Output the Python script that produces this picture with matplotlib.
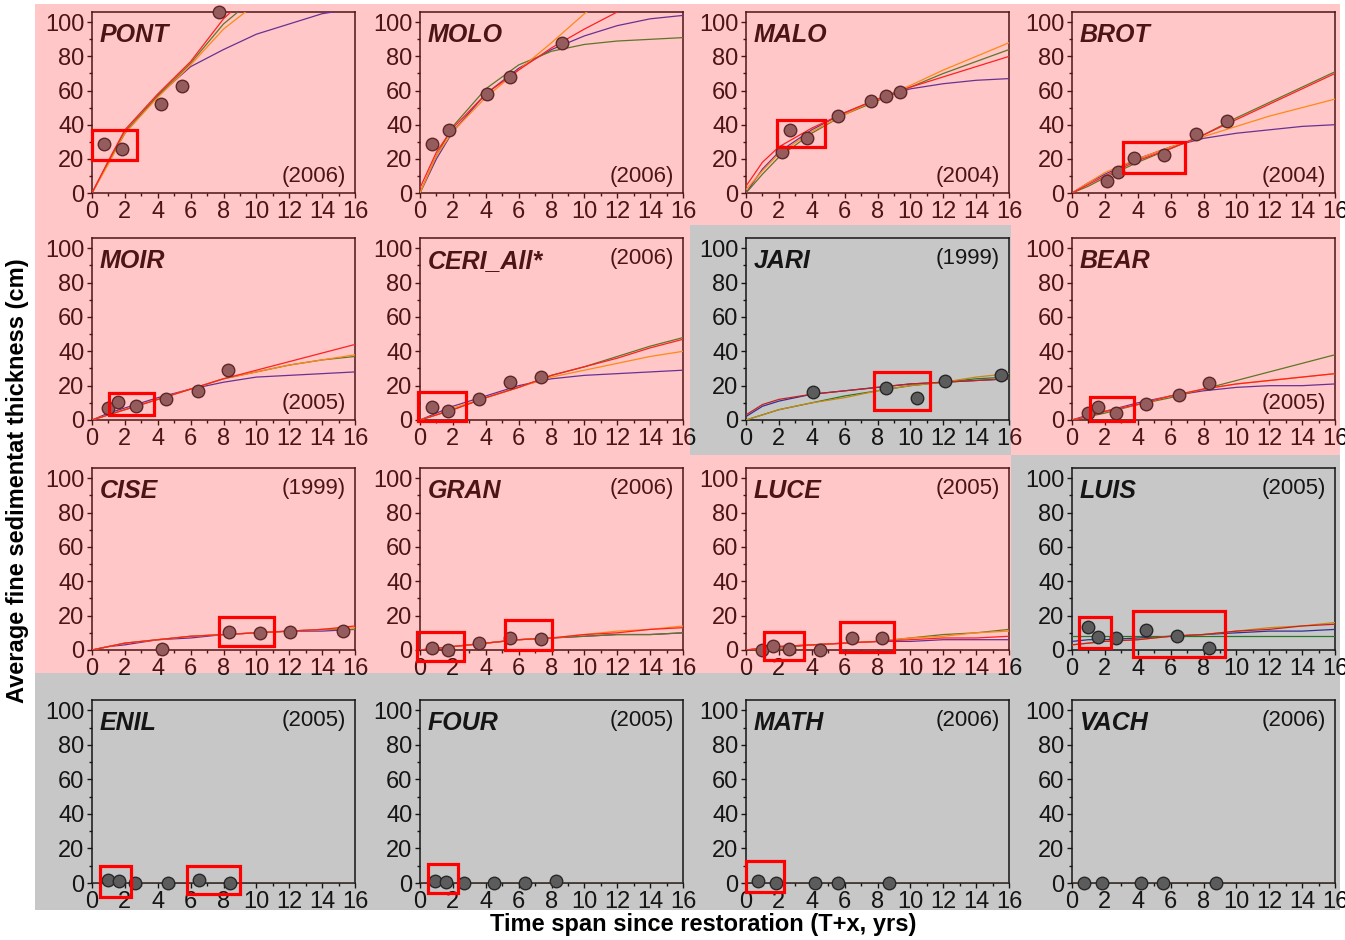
import matplotlib
matplotlib.use("Agg")
import matplotlib.pyplot as plt
from matplotlib.patches import Rectangle
from matplotlib.ticker import MultipleLocator

plt.rcParams['font.family'] = ['Liberation Sans', 'DejaVu Sans']

# ---------------- data ----------------
SITES = ["PONT", "MOLO", "MALO", "BROT",
         "MOIR", "CERI_All*", "JARI", "BEAR",
         "CISE", "GRAN", "LUCE", "LUIS",
         "ENIL", "FOUR", "MATH", "VACH"]
YEARS = ["(2006)", "(2006)", "(2004)", "(2004)",
         "(2005)", "(2006)", "(1999)", "(2005)",
         "(1999)", "(2006)", "(2005)", "(2005)",
         "(2005)", "(2005)", "(2006)", "(2006)"]
# group: 'A' = pink panels, 'B' = grey panels
GROUP = ["A", "A", "A", "A",
         "A", "A", "B", "A",
         "A", "A", "A", "B",
         "B", "B", "B", "B"]

# observed points (time since restoration, yrs ; thickness, cm)
PONT_T = [0.75, 1.8, 4.2, 5.5, 7.75]
PONT_D = [28.6, 26, 52, 62.4, 106]
MOLO_T = [0.7, 1.75, 4.05, 5.45, 8.65]
MOLO_D = [28.5, 37, 58, 68, 88]
MALO_T = [2.2, 2.7, 3.7, 5.6, 7.6, 8.5, 9.35]
MALO_D = [24, 37, 32, 45, 54, 57, 59]
BROT_T = [2.1, 2.8, 3.8, 5.6, 7.55, 9.45]
BROT_D = [7, 12.5, 20.5, 22, 34.7, 42.2]
MOIR_T = [0.95, 1.6, 2.7, 4.5, 6.45, 8.3]
MOIR_D = [7, 10.2, 8, 12.3, 17, 29.4]
CERI_T = [0.7, 1.7, 3.6, 5.5, 7.35]
CERI_D = [7.6, 5.1, 12.4, 21.9, 25.3]
JARI_T = [4.1, 8.5, 10.4, 12.1, 15.5]
JARI_D = [16.4, 18.6, 12.6, 22.6, 26.3]
BEAR_T = [1.0, 1.6, 2.7, 4.5, 6.5, 8.35]
BEAR_D = [4.2, 7.3, 4.2, 9.6, 14.8, 21.5]
CISE_T = [4.25, 8.35, 10.2, 12.05, 15.3]
CISE_D = [0.4, 10.6, 9.7, 10.6, 11.2]
GRAN_T = [0.7, 1.7, 3.6, 5.5, 7.35]
GRAN_D = [1, 0, 3.9, 6.8, 6.4]
LUCE_T = [0.95, 1.65, 2.6, 4.5, 6.45, 8.3]
LUCE_D = [0, 2.5, 0.6, 0, 7.1, 6.7]
LUIS_T = [0.95, 1.6, 2.7, 4.5, 6.4, 8.35]
LUIS_D = [13.4, 7.3, 6.7, 11.9, 8, 1]
ENIL_T = [1.0, 1.65, 2.6, 4.6, 6.5, 8.4]
ENIL_D = [2, 1, 0, 0, 2, 0]
FOUR_T = [0.9, 1.6, 2.65, 4.5, 6.4, 8.3]
FOUR_D = [1, 0.5, 0, 0, 0, 1]
MATH_T = [0.7, 1.8, 4.2, 5.6, 8.7]
MATH_D = [1, 0, 0, 0, 0]
VACH_T = [0.75, 1.85, 4.2, 5.55, 8.75]
VACH_D = [0, 0, 0, 0, 0]

# fitted curves at these times
FIT_T = [0, 1, 2, 4, 6, 8, 10, 12, 14, 16]
PONT_BLUE   = [0, 18, 35, 57, 74, 84, 93, 99, 105, 108]
PONT_GREEN  = [0, 18, 36, 57, 76, 99, 115, 132, 148, 164]
PONT_ORANGE = [0, 17, 35, 56, 75, 96, 111, 128, 144, 160]
PONT_RED    = [0, 19, 37, 58, 77, 102, 120, 138, 155, 170]
MOLO_BLUE   = [0, 20, 36, 58, 73, 84, 92, 98, 102, 104]
MOLO_GREEN  = [0, 22, 39, 61, 75, 83, 87, 89, 90, 91]
MOLO_ORANGE = [0, 22, 36, 56, 72, 88, 105, 118, 130, 140]
MOLO_RED    = [3, 24, 38, 58, 72, 85, 96, 106, 114, 122]
MALO_BLUE   = [0, 14, 24, 37, 47, 55, 61, 64, 66, 67]
MALO_GREEN  = [0, 11, 21, 35, 46, 54, 62, 70, 77, 84]
MALO_ORANGE = [2, 13, 23, 36, 46, 55, 63, 72, 80, 88]
MALO_RED    = [4, 18, 27, 38, 47, 55, 62, 68, 74, 80]
BROT_BLUE   = [0, 6, 11, 20, 27, 32, 35, 37, 39, 40]
BROT_GREEN  = [0, 4, 9, 18, 26, 34, 44, 53, 62, 71]
BROT_ORANGE = [0, 6, 12, 20, 27, 33, 39, 45, 50, 55]
BROT_RED    = [0, 5, 10, 19, 26, 34, 43, 52, 61, 70]
MOIR_BLUE   = [0, 4, 7, 13, 18, 22, 25, 26, 27, 28]
MOIR_GREEN  = [0, 3, 6, 12, 18, 24, 28, 32, 35, 37]
MOIR_ORANGE = [0, 3, 6, 12, 18, 24, 28, 32, 35, 38]
MOIR_RED    = [0, 3, 6, 12, 18, 24, 29, 34, 39, 44]
CERI_BLUE   = [0, 4, 8, 14, 20, 24, 26, 27, 28, 29]
CERI_GREEN  = [0, 3, 6, 13, 19, 26, 31, 37, 43, 48]
CERI_ORANGE = [0, 3, 7, 13, 19, 25, 29, 33, 37, 40]
CERI_RED    = [0, 3, 6, 13, 19, 26, 31, 36, 42, 47]
JARI_BLUE   = [2, 8, 11, 15, 17, 19, 21, 22, 23, 24]
JARI_GREEN  = [0, 3, 6, 10, 14, 17, 20, 22, 24, 25]
JARI_ORANGE = [0, 3, 6, 10, 13, 17, 20, 22, 25, 27]
JARI_RED    = [3, 9, 12, 15, 17, 19, 21, 22, 23, 24]
BEAR_BLUE   = [0, 3, 5, 10, 14, 17, 19, 20, 20, 21]
BEAR_GREEN  = [0, 2, 4, 9, 13, 18, 23, 28, 33, 38]
BEAR_ORANGE = [0, 2, 5, 9, 14, 18, 21, 23, 25, 27]
BEAR_RED    = [0, 2, 5, 9, 14, 18, 21, 23, 25, 27]
CISE_BLUE   = [0, 2, 3, 6, 7, 9, 10, 11, 11, 12]
CISE_GREEN  = [0, 2, 4, 6, 8, 9, 10, 11, 12, 12]
CISE_ORANGE = [0, 2, 4, 6, 8, 9, 10, 11, 12, 13]
CISE_RED    = [0, 2, 4, 6, 8, 9, 10, 11, 12, 14]
GRAN_BLUE   = [0, 1, 2, 4, 6, 7, 8, 9, 9, 10]
GRAN_GREEN  = [0, 1, 2, 4, 6, 7, 8, 9, 9, 10]
GRAN_ORANGE = [0, 1, 2, 4, 6, 7, 9, 11, 12, 14]
GRAN_RED    = [0, 1, 2, 4, 6, 7, 9, 10, 12, 13]
LUCE_BLUE   = [0, 1, 2, 3, 4, 5, 5, 6, 6, 6]
LUCE_GREEN  = [0, 1, 1, 3, 4, 5, 7, 9, 10, 12]
LUCE_ORANGE = [0, 1, 2, 3, 4, 5, 7, 8, 10, 11]
LUCE_RED    = [0, 1, 2, 3, 4, 5, 6, 7, 7, 8]
LUIS_BLUE   = [5, 6, 6, 7, 8, 9, 10, 11, 11, 12]
LUIS_GREEN  = [8, 8, 8, 8, 8, 8, 8, 8, 8, 8]
LUIS_ORANGE = [3, 4, 5, 6, 8, 9, 11, 13, 14, 16]
LUIS_RED    = [3, 4, 5, 6, 8, 9, 11, 12, 14, 15]
ENIL_BLUE   = [0, 0, 0, 0, 0, 0, 0, 0, 0, 0]
ENIL_GREEN  = [0, 0, 0, 0, 0, 0, 0, 0, 0, 0]
ENIL_ORANGE = [0, 0, 0, 0, 0, 0, 0, 0, 0, 0]
ENIL_RED    = [0, 0, 0, 0, 0, 0, 0, 0, 0, 0]
FOUR_BLUE   = [0, 0, 0, 0, 0, 0, 0, 0, 0, 0]
FOUR_GREEN  = [0, 0, 0, 0, 0, 0, 0, 0, 0, 0]
FOUR_ORANGE = [0, 0, 0, 0, 0, 0, 0, 0, 0, 0]
FOUR_RED    = [0, 0, 0, 0, 0, 0, 0, 0, 0, 0]
MATH_BLUE   = [0, 0, 0, 0, 0, 0, 0, 0, 0, 0]
MATH_GREEN  = [0, 0, 0, 0, 0, 0, 0, 0, 0, 0]
MATH_ORANGE = [0, 0, 0, 0, 0, 0, 0, 0, 0, 0]
MATH_RED    = [0, 0, 0, 0, 0, 0, 0, 0, 0, 0]
VACH_BLUE   = [0, 0, 0, 0, 0, 0, 0, 0, 0, 0]
VACH_GREEN  = [0, 0, 0, 0, 0, 0, 0, 0, 0, 0]
VACH_ORANGE = [0, 0, 0, 0, 0, 0, 0, 0, 0, 0]
VACH_RED    = [0, 0, 0, 0, 0, 0, 0, 0, 0, 0]

# highlighted groups of points: (t0, t1, d0, d1)
PONT_BOX = [(0.0, 2.75, 19.2, 37.0)]
MOLO_BOX = []
MALO_BOX = [(1.9, 4.8, 27.0, 43.0)]
BROT_BOX = [(3.1, 6.85, 12.0, 30.0)]
MOIR_BOX = [(1.05, 3.75, 2.7, 16.0)]
CERI_BOX = [(-0.1, 2.8, -0.5, 16.2)]
JARI_BOX = [(7.8, 11.2, 5.6, 28.2)]
BEAR_BOX = [(1.1, 3.8, -0.5, 13.4)]
CISE_BOX = [(7.7, 11.1, 2.3, 19.3)]
GRAN_BOX = [(-0.2, 2.65, -6.5, 10.7), (5.15, 8.05, 0.0, 17.4)]
LUCE_BOX = [(1.1, 3.55, -5.8, 10.6), (5.7, 9.0, -1.0, 16.3)]
LUIS_BOX = [(0.4, 2.35, 1.0, 19.5), (3.7, 9.3, -4.2, 22.6)]
ENIL_BOX = [(0.5, 2.4, -8.0, 10.0), (5.8, 9.0, -6.5, 10.0)]
FOUR_BOX = [(0.5, 2.3, -6.0, 11.0)]
MATH_BOX = [(0.0, 2.3, -5.0, 13.0)]
VACH_BOX = []

OBS = [(PONT_T, PONT_D), (MOLO_T, MOLO_D), (MALO_T, MALO_D), (BROT_T, BROT_D),
       (MOIR_T, MOIR_D), (CERI_T, CERI_D), (JARI_T, JARI_D), (BEAR_T, BEAR_D),
       (CISE_T, CISE_D), (GRAN_T, GRAN_D), (LUCE_T, LUCE_D), (LUIS_T, LUIS_D),
       (ENIL_T, ENIL_D), (FOUR_T, FOUR_D), (MATH_T, MATH_D), (VACH_T, VACH_D)]
FITS = [(PONT_BLUE, PONT_GREEN, PONT_ORANGE, PONT_RED),
        (MOLO_BLUE, MOLO_GREEN, MOLO_ORANGE, MOLO_RED),
        (MALO_BLUE, MALO_GREEN, MALO_ORANGE, MALO_RED),
        (BROT_BLUE, BROT_GREEN, BROT_ORANGE, BROT_RED),
        (MOIR_BLUE, MOIR_GREEN, MOIR_ORANGE, MOIR_RED),
        (CERI_BLUE, CERI_GREEN, CERI_ORANGE, CERI_RED),
        (JARI_BLUE, JARI_GREEN, JARI_ORANGE, JARI_RED),
        (BEAR_BLUE, BEAR_GREEN, BEAR_ORANGE, BEAR_RED),
        (CISE_BLUE, CISE_GREEN, CISE_ORANGE, CISE_RED),
        (GRAN_BLUE, GRAN_GREEN, GRAN_ORANGE, GRAN_RED),
        (LUCE_BLUE, LUCE_GREEN, LUCE_ORANGE, LUCE_RED),
        (LUIS_BLUE, LUIS_GREEN, LUIS_ORANGE, LUIS_RED),
        (ENIL_BLUE, ENIL_GREEN, ENIL_ORANGE, ENIL_RED),
        (FOUR_BLUE, FOUR_GREEN, FOUR_ORANGE, FOUR_RED),
        (MATH_BLUE, MATH_GREEN, MATH_ORANGE, MATH_RED),
        (VACH_BLUE, VACH_GREEN, VACH_ORANGE, VACH_RED)]
BOXES = [PONT_BOX, MOLO_BOX, MALO_BOX, BROT_BOX, MOIR_BOX, CERI_BOX, JARI_BOX, BEAR_BOX,
         CISE_BOX, GRAN_BOX, LUCE_BOX, LUIS_BOX, ENIL_BOX, FOUR_BOX, MATH_BOX, VACH_BOX]

# ---------------- layout / style ----------------
W, H = 1345, 940
fig = plt.figure(figsize=(W / 100, H / 100), dpi=100)
fig.patch.set_facecolor("white")

COL_LEFT = [92, 420, 746, 1072]
AX_W = 263
ROW_TOP = [12, 238, 468, 700]
ROW_BOT = [193, 420, 650, 883]
YEAR_AT_BOTTOM = [True, True, True, True,
                  True, False, False, True,
                  False, False, False, False,
                  False, False, False, False]
CELL_X = [35, 363, 690, 1011, 1340]
CELL_Y = [4, 225, 455, 673, 910]

FIT_COLORS = ["#2828b4", "#1a8a1a", "#ffa500", "#ff1010"]
TINT = {"A": (1.0, 0.28, 0.28), "B": (0.28, 0.28, 0.28)}
TINT_ALPHA = 0.3


def fx(px):
    return px / W


def fy(py):
    return 1 - py / H


for i, site in enumerate(SITES):
    r, c = divmod(i, 4)
    left, top, bot = COL_LEFT[c], ROW_TOP[r], ROW_BOT[r]
    ax = fig.add_axes([fx(left), fy(bot), AX_W / W, (bot - top) / H])
    ax.set_facecolor("white")
    ax.set_xlim(0, 16)
    ax.set_ylim(0, 106)
    ax.xaxis.set_major_locator(MultipleLocator(2))
    ax.xaxis.set_minor_locator(MultipleLocator(1))
    ax.yaxis.set_major_locator(MultipleLocator(20))
    ax.yaxis.set_minor_locator(MultipleLocator(10))
    ax.tick_params(which="major", direction="out", length=3.5, width=1.0,
                   labelsize=17, pad=2.0, colors="black")
    ax.tick_params(which="minor", direction="out", length=2.2, width=1.0)
    for sp in ax.spines.values():
        sp.set_linewidth(1.1)
        sp.set_color("black")

    for vals, col in zip(FITS[i], FIT_COLORS):
        ax.plot(FIT_T, vals, color=col, lw=0.9, zorder=3)

    t, d = OBS[i]
    ax.plot(t, d, "o", ms=9, mfc="#666666", mec="#1a1a1a", mew=1.0,
            clip_on=False, zorder=4)

    ax.annotate(site, xy=(0, 1), xycoords="axes fraction", xytext=(8, -11),
                textcoords="offset pixels", ha="left", va="top",
                fontsize=18, fontweight="bold", fontstyle="italic")
    if YEAR_AT_BOTTOM[i]:
        ax.annotate(YEARS[i], xy=(1, 0), xycoords="axes fraction", xytext=(-9, 6),
                    textcoords="offset pixels", ha="right", va="bottom", fontsize=16)
    else:
        ax.annotate(YEARS[i], xy=(1, 1), xycoords="axes fraction", xytext=(-9, -10),
                    textcoords="offset pixels", ha="right", va="top", fontsize=16)

    # tinted cell over the panel
    x0, x1 = CELL_X[c], CELL_X[c + 1]
    y0, y1 = CELL_Y[r], CELL_Y[r + 1]
    fig.add_artist(Rectangle((fx(x0), fy(y1)), (x1 - x0) / W, (y1 - y0) / H,
                             transform=fig.transFigure, facecolor=TINT[GROUP[i]],
                             edgecolor="none", alpha=TINT_ALPHA, zorder=5))

    for (b0, b1, e0, e1) in BOXES[i]:
        fig.add_artist(Rectangle((b0, e0), b1 - b0, e1 - e0, transform=ax.transData,
                                 fill=False, edgecolor="#ff0000", lw=2.3,
                                 clip_on=False, zorder=6))

fig.text(fx(703), fy(925), "Time span since restoration (T+x, yrs)",
         ha="center", va="center", fontsize=17, fontweight="bold")
fig.text(fx(18), fy(481), "Average fine sedimentat thickness (cm)",
         ha="center", va="center", rotation=90, fontsize=17, fontweight="bold")

fig.savefig("out.png", dpi=100)
